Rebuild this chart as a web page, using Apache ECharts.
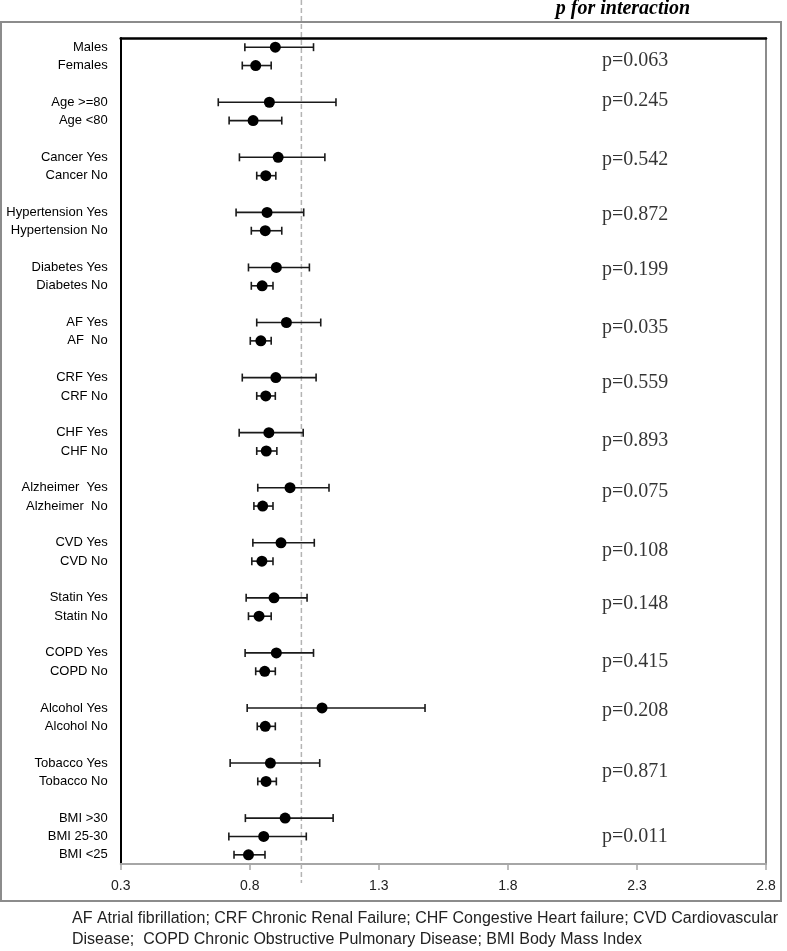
<!DOCTYPE html>
<html>
<head>
<meta charset="utf-8">
<script src="https://cdn.jsdelivr.net/npm/echarts@6/dist/echarts.min.js"></script>
<style>html,body{margin:0;padding:0;background:#fff}#c{width:787px;height:951px}</style>
</head>
<body>
<div id="c"></div>
<script>
// Row labels (blank strings are spacer rows between groups)
var rowLabels = [
  'Males','Females','',
  'Age >=80','Age <80','',
  'Cancer Yes','Cancer No','',
  'Hypertension Yes','Hypertension No','',
  'Diabetes Yes','Diabetes No','',
  'AF Yes','AF  No','',
  'CRF Yes','CRF No','',
  'CHF Yes','CHF No','',
  'Alzheimer  Yes','Alzheimer  No','',
  'CVD Yes','CVD No','',
  'Statin Yes','Statin No','',
  'COPD Yes','COPD No','',
  'Alcohol Yes','Alcohol No','',
  'Tobacco Yes','Tobacco No','',
  'BMI >30','BMI 25-30','BMI <25'
];
// Odds ratio point estimates
var estimate = [
  0.899,0.823,null,
  0.876,0.813,null,
  0.910,0.862,null,
  0.867,0.860,null,
  0.903,0.848,null,
  0.942,0.843,null,
  0.901,0.862,null,
  0.874,0.864,null,
  0.956,0.850,null,
  0.921,0.847,null,
  0.894,0.836,null,
  0.903,0.858,null,
  1.080,0.860,null,
  0.880,0.863,null,
  0.937,0.854,0.795
];
// Lower CI bounds
var lower = [
  0.781,0.771,null,
  0.678,0.720,null,
  0.760,0.827,null,
  0.747,0.806,null,
  0.795,0.806,null,
  0.827,0.802,null,
  0.771,0.827,null,
  0.759,0.827,null,
  0.831,0.816,null,
  0.812,0.808,null,
  0.786,0.795,null,
  0.782,0.823,null,
  0.790,0.829,null,
  0.724,0.831,null,
  0.783,0.719,0.739
];
// Upper CI bounds
var upper = [
  1.047,0.883,null,
  1.134,0.924,null,
  1.091,0.901,null,
  1.009,0.924,null,
  1.031,0.890,null,
  1.075,0.883,null,
  1.057,0.899,null,
  1.007,0.905,null,
  1.107,0.890,null,
  1.050,0.890,null,
  1.022,0.883,null,
  1.047,0.899,null,
  1.479,0.899,null,
  1.071,0.903,null,
  1.123,1.019,0.859
];
// p for interaction, and the row (index on the category scale) each is printed at
var pValues = ['0.063','0.245','0.542','0.872','0.199','0.035','0.559','0.893','0.075','0.108','0.148','0.415','0.208','0.871','0.011'];
var pRow = [0.75,2.93,6.15,9.14,12.14,15.3,18.27,21.45,24.21,27.42,30.34,33.47,36.14,39.46,43.03];
var xTicks = [0.3,0.8,1.3,1.8,2.3,2.8];
var refValue = 1;

var ciData = [], ptData = [], pData = [];
for (var i = 0; i < rowLabels.length; i++) {
  if (estimate[i] != null) {
    ciData.push([lower[i], upper[i], i]);
    ptData.push([estimate[i], i]);
  }
}
var PX = 2.165;
for (var j = 0; j < pValues.length; j++) pData.push([PX, pRow[j], pValues[j]]);

var chart = echarts.init(document.getElementById('c'), null, {renderer: 'canvas'});
var labelFont = '"Liberation Sans", Arial, sans-serif';
var option = {
  animation: false,
  backgroundColor: '#fff',
  grid: {left: 120.7, right: 21, top: 38, bottom: 87, containLabel: false},
  xAxis: [{
    type: 'value', position: 'bottom', min: xTicks[0], max: xTicks[xTicks.length - 1], interval: 0.5,
    axisLine: {show: true, onZero: false, lineStyle: {color: '#a6a6a6', width: 2}},
    axisTick: {show: true, length: 6, lineStyle: {color: '#a6a6a6', width: 1.5}},
    splitLine: {show: false},
    axisLabel: {color: '#222', fontSize: 14, fontFamily: labelFont, margin: 15,
      formatter: function (v) { return v.toFixed(1); }}
  }, {
    type: 'value', position: 'top', min: xTicks[0], max: xTicks[xTicks.length - 1],
    axisLine: {show: true, onZero: false, lineStyle: {color: '#000', width: 2.5}},
    axisTick: {show: false}, axisLabel: {show: false}, splitLine: {show: false}
  }],
  yAxis: [{
    type: 'category', data: rowLabels, inverse: true,
    axisLine: {show: true, onZero: false, lineStyle: {color: '#000', width: 2}},
    axisTick: {show: false},
    splitLine: {show: false},
    axisLabel: {color: '#000', fontSize: 13, fontFamily: labelFont, margin: 13, interval: 0}
  }, {
    type: 'category', data: rowLabels, inverse: true, position: 'right',
    axisLine: {show: true, onZero: false, lineStyle: {color: '#8c8c8c', width: 2}},
    axisTick: {show: false}, axisLabel: {show: false}, splitLine: {show: false}
  }, {
    type: 'value', show: false, inverse: true, min: -0.5, max: rowLabels.length - 0.5,
    axisLine: {onZero: false}
  }],
  graphic: [
    {type: 'rect', z: -10, shape: {x: 1, y: 22, width: 780, height: 879},
      style: {fill: 'none', stroke: '#8c8c8c', lineWidth: 2}},
    {type: 'text', x: 623, y: 9, style: {text: 'p for interaction', fontFamily: '"Liberation Serif", serif',
      fontSize: 20, fontStyle: 'italic', fontWeight: 'bold', fill: '#000', align: 'center', verticalAlign: 'middle'}},
    {type: 'text', x: 72, y: 919, style: {text: 'AF Atrial fibrillation; CRF Chronic Renal Failure; CHF Congestive Heart failure; CVD Cardiovascular',
      fontFamily: labelFont, fontSize: 16, fill: '#222', align: 'left', verticalAlign: 'middle'}},
    {type: 'text', x: 72, y: 940, style: {text: 'Disease;  COPD Chronic Obstructive Pulmonary Disease; BMI Body Mass Index',
      fontFamily: labelFont, fontSize: 16, fill: '#222', align: 'left', verticalAlign: 'middle'}}
  ],
  series: [
    {
      type: 'custom', name: 'ref', z: 1, clip: false, data: [[refValue]],
      renderItem: function (params, api) {
        var p = api.coord([api.value(0), 0]);
        var cs = params.coordSys;
        return {type: 'line', shape: {x1: p[0], y1: 0, x2: p[0], y2: cs.y + cs.height + 19},
          style: {stroke: '#b4b4b4', lineWidth: 1.5, lineDash: [5, 3]}};
      }
    },
    {
      type: 'custom', name: 'CI', z: 3, data: ciData,
      encode: {x: [0, 1], y: 2},
      renderItem: function (params, api) {
        var a = api.coord([api.value(0), api.value(2)]);
        var b = api.coord([api.value(1), api.value(2)]);
        var h = 4;
        var st = {stroke: '#1a1a1a', lineWidth: 1.6};
        return {type: 'group', children: [
          {type: 'line', shape: {x1: a[0], y1: a[1], x2: b[0], y2: b[1]}, style: st},
          {type: 'line', shape: {x1: a[0], y1: a[1] - h, x2: a[0], y2: a[1] + h}, style: st},
          {type: 'line', shape: {x1: b[0], y1: b[1] - h, x2: b[0], y2: b[1] + h}, style: st}
        ]};
      }
    },
    {
      type: 'scatter', name: 'OR', z: 4, data: ptData, symbol: 'circle', symbolSize: 11,
      itemStyle: {color: '#000', opacity: 1}
    },
    {
      type: 'scatter', name: 'p', yAxisIndex: 2, data: pData, symbolSize: 0, z: 5,
      label: {show: true, position: 'right', distance: 0, color: '#000',
        fontFamily: '"Liberation Serif", serif', fontSize: 20,
        formatter: function (p) { return 'p=' + p.value[2]; }}
    }
  ]
};
chart.setOption(option);
</script>
</body>
</html>
